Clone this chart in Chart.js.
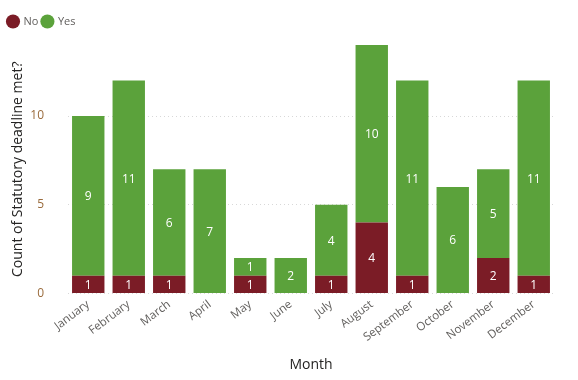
<!DOCTYPE html>
<html>
<head>
<meta charset="utf-8">
<script src="https://cdn.jsdelivr.net/npm/chart.js@4.4.0/dist/chart.umd.min.js"></script>
<style>
  html, body { margin: 0; padding: 0; background: #fff; }
  #wrap { width: 578px; height: 380px; position: relative; }
</style>
</head>
<body>
<div id="wrap"><canvas id="chart"></canvas></div>
<script>
// Chart data
const months = ['January', 'February', 'March', 'April', 'May', 'June', 'July', 'August', 'September', 'October', 'November', 'December'];
const noCounts = [1, 1, 1, 0, 1, 0, 1, 4, 1, 0, 2, 1];
const yesCounts = [9, 11, 6, 7, 1, 2, 4, 10, 11, 6, 5, 11];
const yTicks = [0, 5, 10];

const FONT = "'Open Sans', 'DejaVu Sans', sans-serif";

// Draw the value in the middle of each segment (skip zeros)
const barLabels = {
    id: 'barLabels',
    afterDatasetsDraw(chart) {
        const ctx = chart.ctx;
        ctx.save();
        ctx.font = '12px ' + FONT;
        ctx.fillStyle = '#ffffff';
        ctx.textAlign = 'center';
        ctx.textBaseline = 'middle';
        chart.data.datasets.forEach((ds, i) => {
            const meta = chart.getDatasetMeta(i);
            meta.data.forEach((bar, j) => {
                const v = ds.data[j];
                if (!v) return;
                const mid = (bar.y + bar.base) / 2;
                ctx.fillText(String(v), bar.x, mid + 1);
            });
        });
        ctx.restore();
    }
};

// Extra room below the legend
const legendGap = {
    id: 'legendGap',
    beforeInit(chart) {
        const fit = chart.legend.fit;
        chart.legend.fit = function () {
            fit.bind(chart.legend)();
            this.height += 8;
        };
    }
};

new Chart(document.getElementById('chart'), {
    type: 'bar',
    data: {
        labels: months,
        datasets: [
            { label: 'No', data: noCounts, backgroundColor: '#7b1c26', barPercentage: 0.8, categoryPercentage: 1 },
            { label: 'Yes', data: yesCounts, backgroundColor: '#5ba23b', barPercentage: 0.8, categoryPercentage: 1 }
        ]
    },
    options: {
        responsive: true,
        maintainAspectRatio: false,
        animation: false,
        layout: { padding: { left: 4, right: 24, top: 12, bottom: 3 } },
        plugins: {
            legend: {
                position: 'top',
                align: 'start',
                labels: {
                    usePointStyle: true,
                    pointStyle: 'circle',
                    boxWidth: 10,
                    boxHeight: 10,
                    padding: 4,
                    color: '#605e5c',
                    font: { family: FONT, size: 11 }
                }
            },
            tooltip: { enabled: false }
        },
        scales: {
            x: {
                stacked: true,
                grid: { display: false, drawTicks: false },
                border: { display: false },
                ticks: {
                    color: '#605e5c',
                    font: { family: FONT, size: 11.5 },
                    minRotation: 37,
                    maxRotation: 37,
                    padding: 4
                },
                title: {
                    display: true,
                    text: 'Month',
                    color: '#252423',
                    font: { family: FONT, size: 14 },
                    padding: { top: 8 }
                }
            },
            y: {
                stacked: true,
                min: 0,
                max: 14,
                afterBuildTicks(axis) {
                    axis.ticks = yTicks.map(v => ({ value: v }));
                },
                afterFit(axis) {
                    axis.width = 64;
                },
                grid: {
                    color: '#d8d8d8',
                    drawTicks: false
                },
                border: { display: false, dash: [1, 3] },
                ticks: {
                    color: '#9a6b3c',
                    font: { family: FONT, size: 12 },
                    padding: 24
                },
                title: {
                    display: true,
                    text: 'Count of Statutory deadline met?',
                    color: '#252423',
                    font: { family: FONT, size: 14 },
                    padding: { top: 6, bottom: 2 }
                }
            }
        }
    },
    plugins: [barLabels, legendGap]
});
</script>
</body>
</html>
